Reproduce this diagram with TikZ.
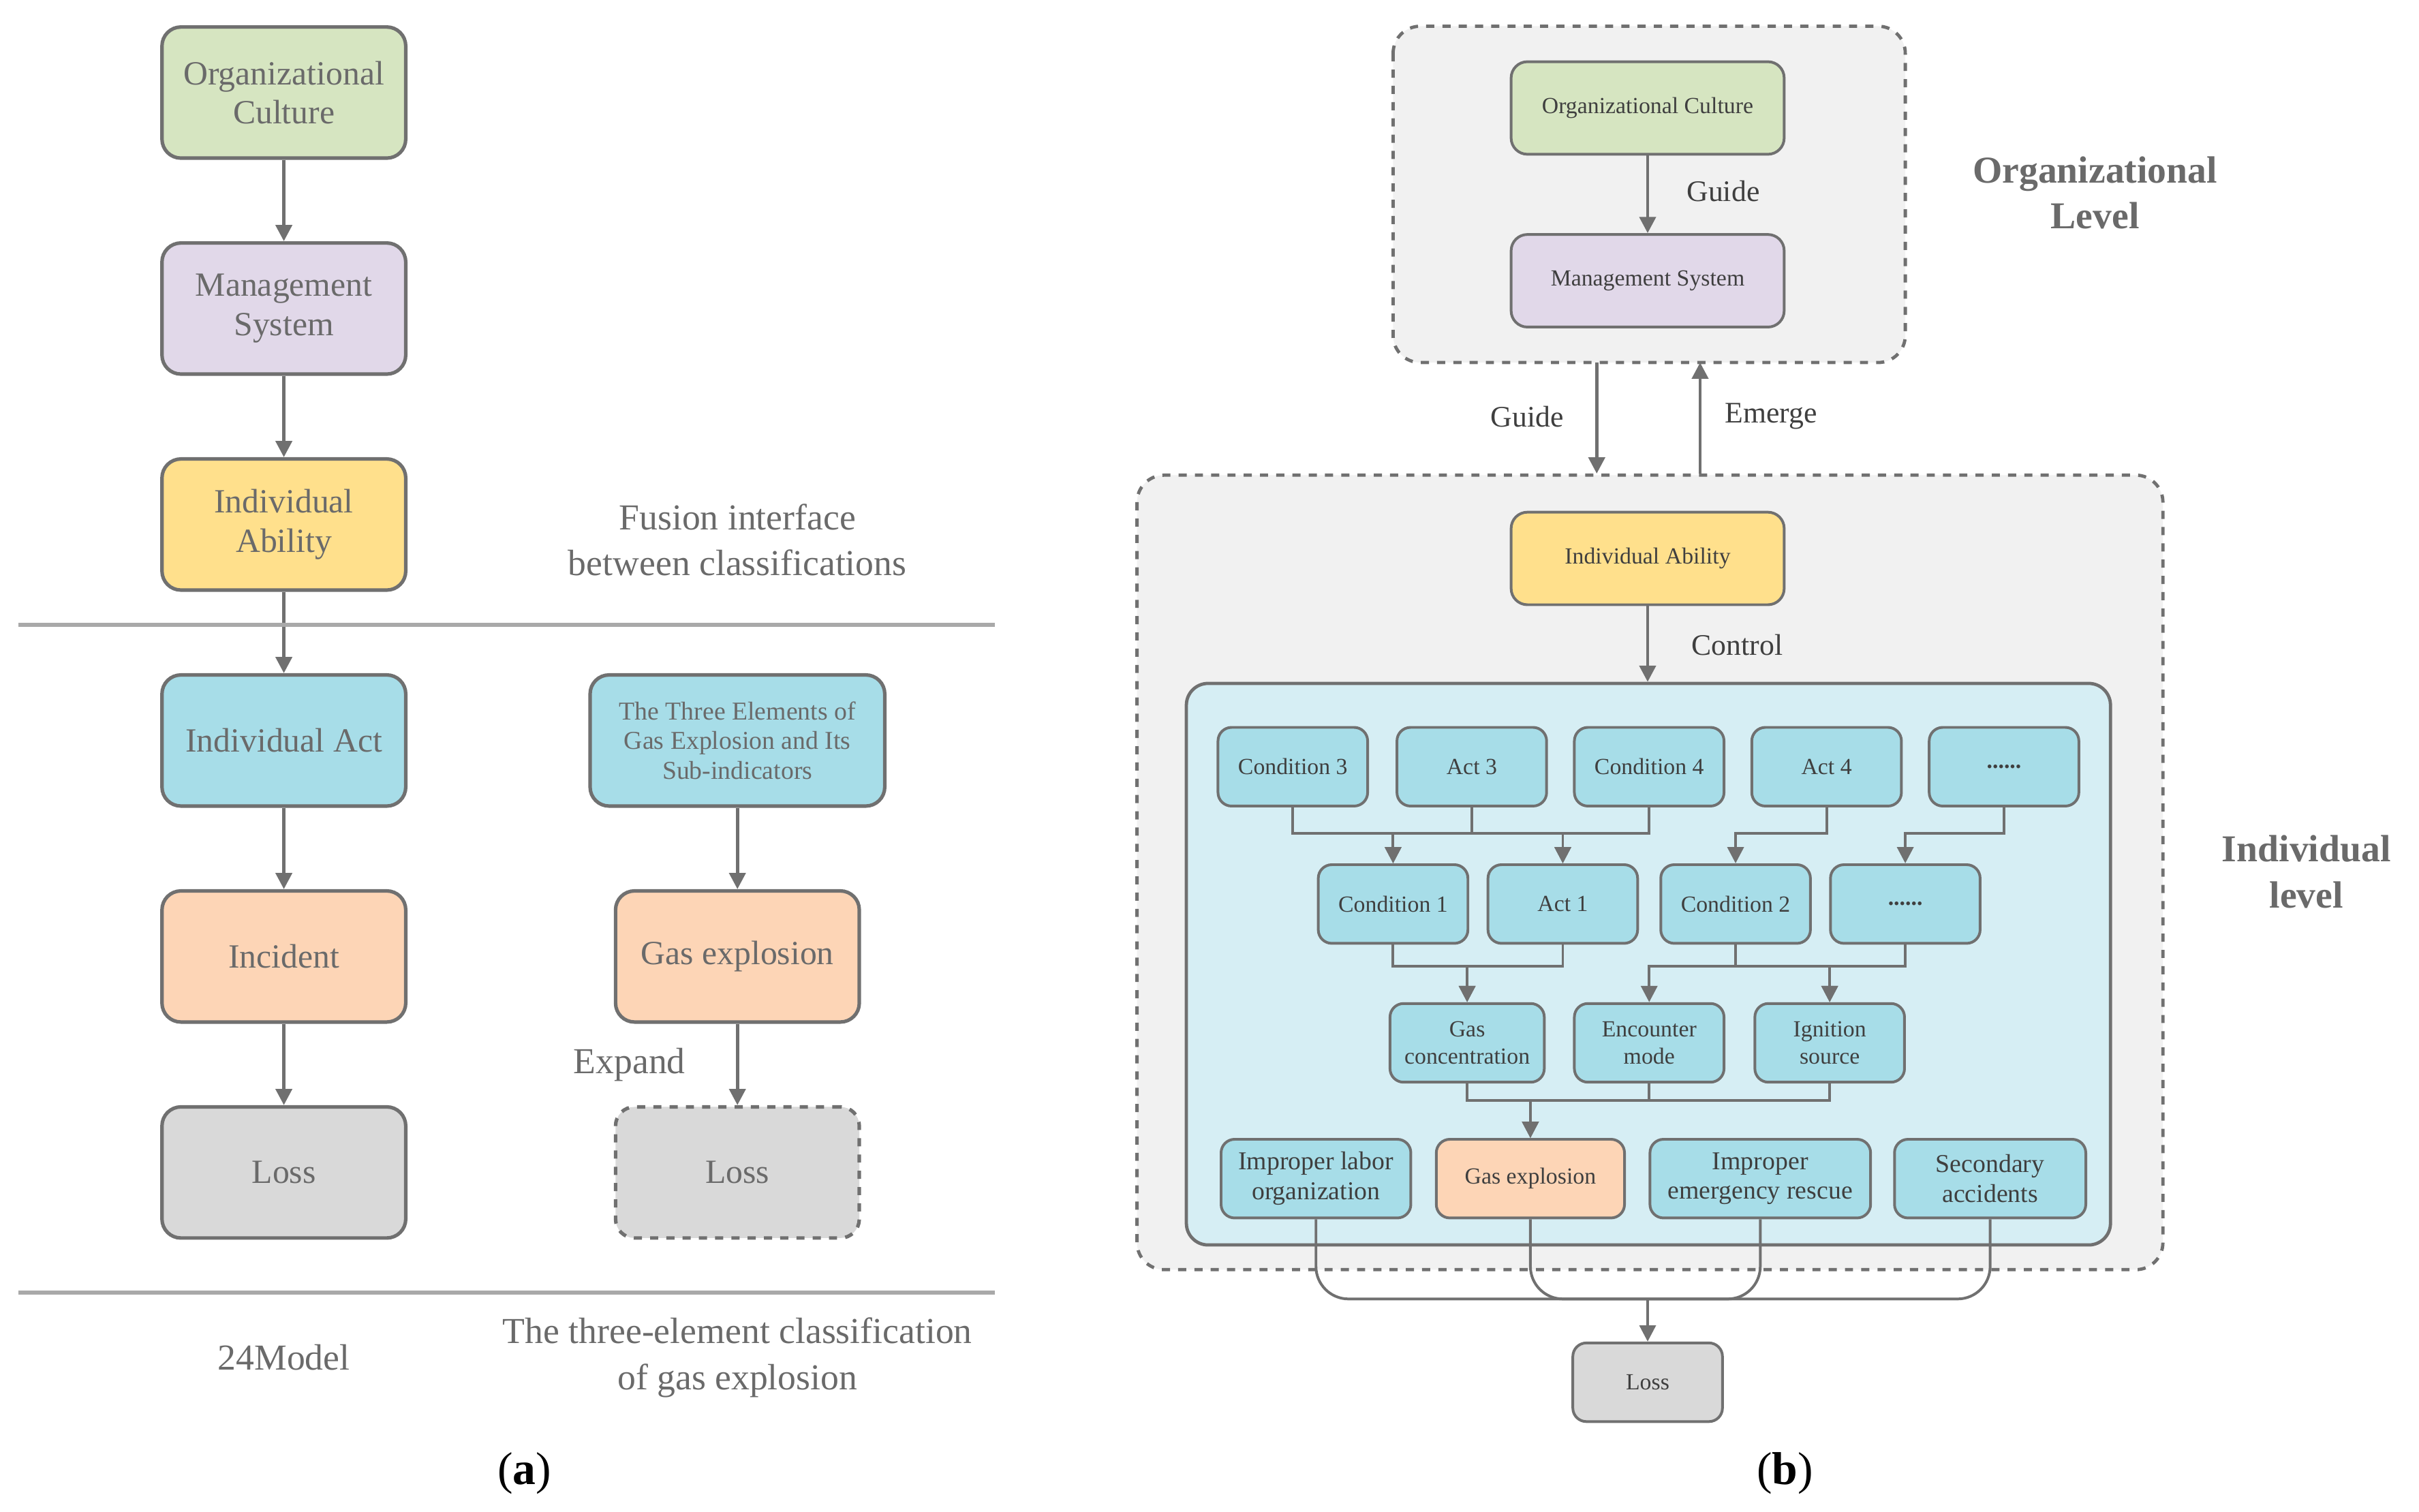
\documentclass[tikz,border=0pt]{standalone}
\usepackage{fontspec}
\setmainfont{Liberation Serif}
\usetikzlibrary{arrows.meta}
\definecolor{bd}{HTML}{707070}
\definecolor{tx}{HTML}{6A6A6A}
\definecolor{tx2}{HTML}{3F3F3F}
\definecolor{cg}{HTML}{D6E5C1}
\definecolor{cp}{HTML}{E1D8E9}
\definecolor{cy}{HTML}{FFE08C}
\definecolor{cc}{HTML}{A7DDE8}
\definecolor{co}{HTML}{FDD5B6}
\definecolor{cgr}{HTML}{D9D9D9}
\definecolor{cin}{HTML}{D6EEF4}
\definecolor{cbg}{HTML}{F1F1F1}
\tikzset{
 x=0.02cm,y=-0.02cm,
 bx/.style={draw=bd,line width=1.3pt,rounded corners=7pt,align=center,inner sep=1pt},
 big/.style={bx,minimum width=158*0.02cm,minimum height=85*0.02cm,font=\fontsize{12.5}{14.5}\selectfont,text=tx},
 sm/.style={bx,line width=1pt,rounded corners=5pt,minimum width=97*0.02cm,minimum height=51*0.02cm,font=\fontsize{8.5}{10}\selectfont,text=tx2},
 md/.style={bx,line width=1pt,rounded corners=6pt,minimum width=177*0.02cm,minimum height=60*0.02cm,font=\fontsize{8.5}{10}\selectfont,text=tx2},
 arr/.style={draw=bd,line width=1.2pt,-{Triangle[length=6pt,width=6pt]}},
 ln/.style={draw=bd,line width=1pt},
 lab/.style={font=\fontsize{13.5}{17}\selectfont,text=tx,align=center},
 lab2/.style={font=\fontsize{11}{13}\selectfont,text=tx2},
 lvl/.style={font=\bfseries\fontsize{14}{17}\selectfont,text=tx,align=center},
}
\begin{document}
\begin{tikzpicture}
\useasboundingbox (0,0) rectangle (1568,980);
% ---------- panel a
\node[big,fill=cg] (oc) at (184,60) {Organizational\\Culture};
\node[big,fill=cp] (ms) at (184,200) {Management\\System};
\node[big,fill=cy] (ia) at (184,340) {Individual\\Ability};
\node[big,fill=cc] (iact) at (184,480) {Individual Act};
\node[big,fill=co] (inc) at (184,620) {Incident};
\node[big,fill=cgr] (loss) at (184,760) {Loss};
\node[big,fill=cc,minimum width=191*0.02cm,font=\fontsize{9.5}{11}\selectfont] (te) at (478,480) {The Three Elements of\\Gas Explosion and Its\\Sub-indicators};
\node[big,fill=co] (ge) at (478,620) {Gas explosion};
\node[big,fill=cgr,dashed] (loss2) at (478,760) {Loss};
\foreach \a/\b in {oc/ms,ms/ia,ia/iact,iact/inc,inc/loss,te/ge,ge/loss2} \draw[arr] (\a) -- (\b);
\draw[draw=bd!60,line width=1.5pt] (12,405) -- (645,405);
\draw[draw=bd!60,line width=1.5pt] (12,838) -- (645,838);
\node[lab] at (478,350) {Fusion interface\\between classifications};
\node[lab] at (408,690) {Expand};
\node[lab] at (184,880) {24Model};
\node[lab] at (478,880) {The three-element classification\\of gas explosion};
\node[font=\fontsize{17}{20}\selectfont] at (340,955) {(\textbf{a})};
\node[font=\fontsize{17}{20}\selectfont] at (1157,955) {(\textbf{b})};
% ---------- panel b
\draw[bd,line width=1.2pt,dashed,fill=cbg,rounded corners=10pt] (903,17) rectangle (1235,235);
\draw[bd,line width=1.2pt,dashed,fill=cbg,rounded corners=10pt] (737,308) rectangle (1402,823);
\draw[bd,line width=1.2pt,fill=cin,rounded corners=8pt] (769,443) rectangle (1368,807);
\node[md,fill=cg] (boc) at (1068,70) {Organizational Culture};
\node[md,fill=cp] (bms) at (1068,182) {Management System};
\draw[arr] (boc) -- (bms);
\node[lab2] at (1117,124) {Guide};
\node[lvl] at (1358,125) {Organizational\\Level};
\coordinate (g1) at (1035,235); \coordinate (g2) at (1035,307);
\coordinate (e1) at (1102,307); \coordinate (e2) at (1102,235);
\draw[arr] (g1) -- (g2); \draw[arr] (e1) -- (e2);
\node[lab2] at (990,270) {Guide};
\node[lab2] at (1148,270) {Emerge};
\node[md,fill=cy] (bia) at (1068,362) {Individual Ability};
\coordinate (ctl) at (1068,442);
\draw[arr] (bia) -- (ctl);
\node[lab2] at (1126,418) {Control};
\node[lvl] at (1495,565) {Individual\\level};
% row1
\node[sm,fill=cc] (c3) at (838,497) {Condition 3};
\node[sm,fill=cc] (a3) at (954,497) {Act 3};
\node[sm,fill=cc] (c4) at (1069,497) {Condition 4};
\node[sm,fill=cc] (a4) at (1184,497) {Act 4};
\node[sm,fill=cc] (d1) at (1299,497) {\textbf{......}};
% row2
\node[sm,fill=cc] (c1) at (903,586) {Condition 1};
\node[sm,fill=cc] (a1) at (1013,586) {Act 1};
\node[sm,fill=cc] (c2) at (1125,586) {Condition 2};
\node[sm,fill=cc] (d2) at (1235,586) {\textbf{......}};
% row3
\node[sm,fill=cc,minimum width=100*0.02cm] (gc) at (951,676) {Gas\\concentration};
\node[sm,fill=cc] (em) at (1069,676) {Encounter\\mode};
\node[sm,fill=cc] (is) at (1186,676) {Ignition\\source};
% row4
\node[sm,fill=cc,minimum width=123*0.02cm,font=\fontsize{9.5}{11}\selectfont] (il) at (853,764) {Improper labor\\organization};
\node[sm,fill=co,minimum width=122*0.02cm] (bge) at (992,764) {Gas explosion};
\node[sm,fill=cc,minimum width=143*0.02cm,font=\fontsize{9.5}{11}\selectfont] (er) at (1141,764) {Improper\\emergency rescue};
\node[sm,fill=cc,minimum width=124*0.02cm,font=\fontsize{9.5}{11}\selectfont] (sa) at (1290,764) {Secondary\\accidents};
\node[sm,fill=cgr] (bl) at (1068,896) {Loss};
% connectors
\foreach \a/\b in {c3/c1,a3/c1,a3/a1,c4/a1,a4/c2,d1/d2}
  \draw[arr,line width=1pt] (\a.south) -- ++(0,17) -| (\b.north);
\foreach \a/\b in {c1/gc,a1/gc,c2/em,c2/is,d2/is}
  \draw[arr,line width=1pt] (\a.south) -- ++(0,14) -| (\b.north);
\foreach \a in {gc,em,is}
  \draw[arr,line width=1pt] (\a.south) -- ++(0,11) -| (bge.north);
\coordinate (m) at (1068,842);
\foreach \a in {il,bge,er,sa}
  \draw[ln,rounded corners=12pt] (\a.south) |- (m);
\draw[arr,line width=1pt] (m) -- (bl.north);
\end{tikzpicture}
\end{document}
